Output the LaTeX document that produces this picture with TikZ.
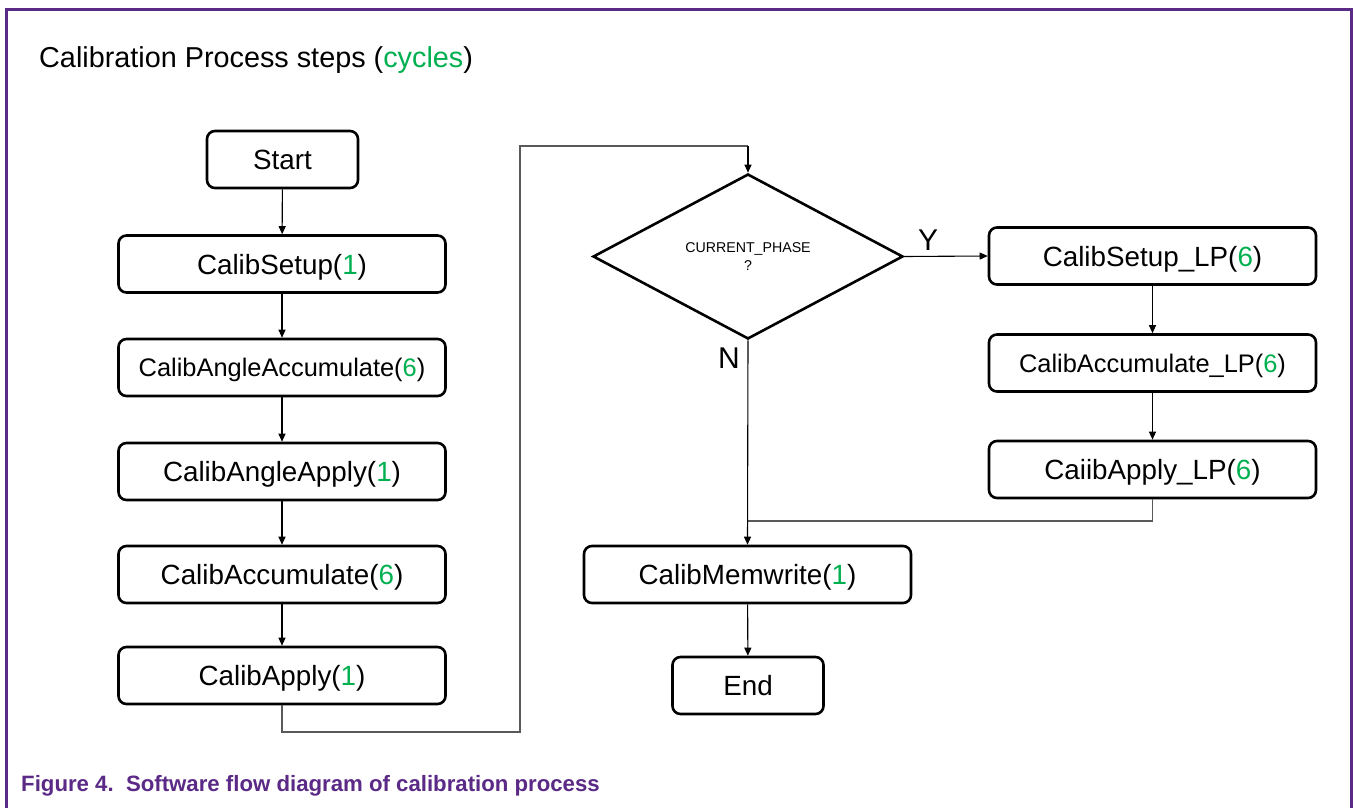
\documentclass[tikz,border=0pt]{standalone}
\usepackage{fontspec}
\setmainfont{Liberation Sans}
\usetikzlibrary{shapes.geometric,arrows.meta}
\definecolor{nxppurple}{HTML}{5B2A86}
\definecolor{cyc}{HTML}{00B050}
\tikzset{
  stepbox/.style={draw=black,line width=2.6pt,rounded corners=8pt,fill=white,inner sep=0pt,
     minimum height=57pt,text depth=0pt,font=\fontsize{27.8}{30}\selectfont},
  smalltxt/.style={font=\fontsize{25.4}{28}\selectfont},
  wide/.style={minimum width=327pt},
  narrow/.style={minimum width=151pt},
  arr/.style={line width=1.1pt,-{Triangle[length=8pt,width=7pt]}},
  link/.style={line width=1.3pt,draw=black!65},
  yn/.style={font=\fontsize{30}{32}\selectfont,inner sep=0pt},
}
\newcommand{\cy}[1]{\textcolor{cyc}{#1}}
\begin{document}
\begin{tikzpicture}[x=1pt,y=-1pt]
\useasboundingbox (0,0) rectangle (1353,808);
\fill[white] (0,0) rectangle (1353,808);
\draw[nxppurple,line width=2.2pt] (6.5,808) -- (6.5,9.5) -- (1351.5,9.5) -- (1351.5,808);
\node[anchor=base west,inner sep=0pt,font=\fontsize{28.8}{32}\selectfont] (title) at (39,67) {Calibration Process steps (\cy{cycles})};
% left column
\node[stepbox,narrow] (start) at (282.5,159.5) {Start};
\node[stepbox,wide] (setup) at (282,264) {CalibSetup(\cy{1})};
\node[stepbox,wide,smalltxt] (aacc) at (282,367.5) {CalibAngleAccumulate(\cy{6})};
\node[stepbox,wide] (aapp) at (282,471.5) {CalibAngleApply(\cy{1})};
\node[stepbox,wide] (acc) at (282,574.5) {CalibAccumulate(\cy{6})};
\node[stepbox,wide] (app) at (282,675.5) {CalibApply(\cy{1})};
% decision
\node[diamond,draw=black,line width=2.6pt,inner sep=0pt,minimum width=310pt,minimum height=165pt,
  align=center,font=\fontsize{14.2}{14}\selectfont] (dec) at (748,256.5) {CURRENT\_PHASE\\[4pt]?};
% right column
\node[stepbox,wide] (slp) at (1152.5,256) {CalibSetup\_LP(\cy{6})};
\node[stepbox,wide,smalltxt] (alp) at (1152.5,363) {CalibAccumulate\_LP(\cy{6})};
\node[stepbox,wide] (plp) at (1152.5,469.5) {CaiibApply\_LP(\cy{6})};
% bottom
\node[stepbox,wide] (mem) at (747.5,574.5) {CalibMemwrite(\cy{1})};
\node[stepbox,narrow] (end) at (748,685.5) {End};
% labels
\node[yn] (ylab) at (928,240) {Y};
\node[yn] (nlab) at (729,358) {N};
% connectors
\draw[arr] (start) -- (setup);
\draw[arr] (setup) -- (aacc);
\draw[arr] (aacc) -- (aapp);
\draw[arr] (aapp) -- (acc);
\draw[arr] (acc) -- (app);
\coordinate (c1) at (282,732);
\coordinate (c2) at (520,732);
\coordinate (c3) at (520,146);
\coordinate (c4) at (748,146);
\draw[link] (app.south) -- (c1) -- (c2) -- (c3) -- (c4);
\draw[arr] (c4) -- (dec.north);
\draw[arr] (dec.east) -- (slp.west);
\draw[arr] (slp) -- (alp);
\draw[arr] (alp) -- (plp);
\coordinate (j1) at (1152.5,521);
\coordinate (j2) at (747.5,521);
\draw[link] (plp.south) -- (j1) -- (j2);
\draw[arr] (dec.south) -- (mem.north);
\draw[arr] (mem) -- (end);
\node[anchor=base west,inner sep=0pt,text=nxppurple,font=\bfseries\fontsize{22.2}{24}\selectfont] (cap) at (21,791) {Figure 4.\ \ Software flow diagram of calibration process};
\end{tikzpicture}
\end{document}
